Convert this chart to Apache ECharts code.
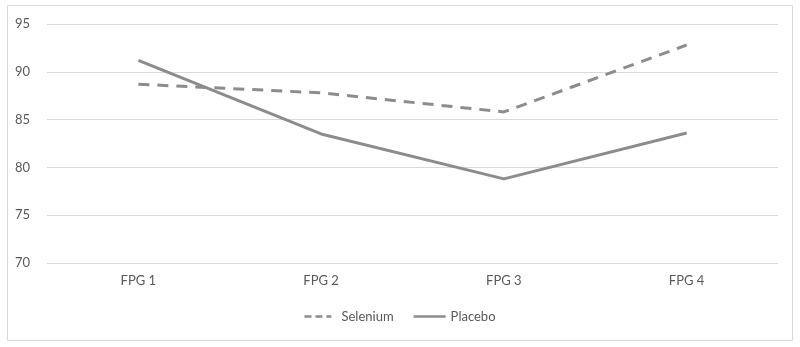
<!DOCTYPE html>
<html>
<head>
<meta charset="utf-8">
<script src="https://cdn.jsdelivr.net/npm/echarts@6/dist/echarts.min.js"></script>
<style>
  html, body { margin: 0; padding: 0; background: #fff; }
  #chart { width: 800px; height: 347px; }
</style>
</head>
<body>
<div id="chart"></div>
<script>
// data
const categories = ['FPG 1', 'FPG 2', 'FPG 3', 'FPG 4']
const selenium = [88.7, 87.8, 85.8, 92.8]
const placebo = [91.2, 83.5, 78.8, 83.6]

const chart = echarts.init(document.getElementById('chart'))
const lineColor = '#8c8c8c'
const textColor = '#595959'
const font = 'Lato, "Liberation Sans", sans-serif'

chart.setOption({
  animation: false,
  graphic: [{
    type: 'rect',
    shape: { x: 7.5, y: 5.5, width: 785, height: 335 },
    style: { fill: 'none', stroke: '#d9d9d9', lineWidth: 1 }
  }],
  grid: { left: 47, right: 22, top: 24, bottom: 84 },
  legend: {
    bottom: 19,
    left: 'center',
    itemWidth: 32,
    itemHeight: 10,
    itemGap: 20,
    textStyle: { color: textColor, fontSize: 13, fontFamily: font },
    data: [
      { name: 'Selenium', icon: 'path://M0,4H7V6.6H0Z M11,4H18V6.6H11Z M22,4H27V6.6H22Z M32,4H32.1V6.6H32Z' },
      { name: 'Placebo', icon: 'path://M0,4H32V6.6H0Z' }
    ]
  },
  xAxis: {
    type: 'category',
    data: categories,
    axisLine: { show: false },
    axisTick: { show: false },
    axisLabel: { color: textColor, fontSize: 13, fontFamily: font, margin: 11 }
  },
  yAxis: {
    type: 'value',
    min: 70,
    max: 95,
    interval: 5,
    axisLine: { show: false },
    axisTick: { show: false },
    axisLabel: { color: textColor, fontSize: 13, fontFamily: font, margin: 17 },
    splitLine: { lineStyle: { color: '#d9d9d9', width: 1 } }
  },
  series: [
    {
      name: 'Selenium',
      type: 'line',
      data: selenium,
      symbol: 'none',
      itemStyle: { color: lineColor },
      lineStyle: { color: lineColor, width: 3, type: [11, 8] }
    },
    {
      name: 'Placebo',
      type: 'line',
      data: placebo,
      symbol: 'none',
      itemStyle: { color: lineColor },
      lineStyle: { color: lineColor, width: 3 }
    }
  ]
})
</script>
</body>
</html>
